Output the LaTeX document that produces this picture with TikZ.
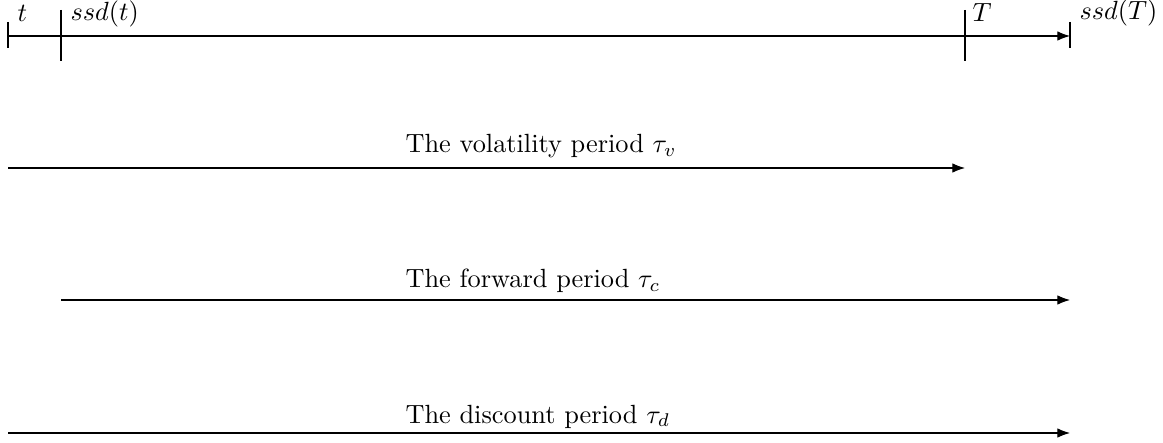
\documentclass[tikz,border=0pt]{standalone}
\usetikzlibrary{arrows.meta}
\begin{document}
\begin{tikzpicture}[x=0.38pt,y=-0.38pt,
  arr/.style={-{Latex}},
  lbl/.style={anchor=base west,inner sep=0pt},
  tick/.style={}]
\useasboundingbox (0,0) rectangle (1163,443);
% timeline points
\coordinate (t)  at (8,36);
\coordinate (st) at (61,36);
\coordinate (T)  at (965,36);
\coordinate (sT) at (1070,36);
\draw[arr] (t) -- (sT);
\draw (8,22) -- (8,48);
\draw (61,10) -- (61,61);
\draw (965,10) -- (965,61);
\draw (1070,22) -- (1070,48);
\node[lbl] (lt)  at (17,22)   {$t$};
\node[lbl] (lst) at (70,21)   {$ssd(t)$};
\node[lbl] (lT)  at (972,22)  {$T$};
\node[lbl] (lsT) at (1079,20) {$ssd(T)$};
% periods
\coordinate (v0) at (8,168);   \coordinate (v1) at (965,168);
\coordinate (c0) at (61,300);  \coordinate (c1) at (1070,300);
\coordinate (d0) at (8,433);   \coordinate (d1) at (1070,433);
\draw[arr] (v0) -- (v1);
\draw[arr] (c0) -- (c1);
\draw[arr] (d0) -- (d1);
\node[lbl] (lv) at (405,153) {The volatility period $\tau_v$};
\node[lbl] (lc) at (405,288) {The forward period $\tau_c$};
\node[lbl] (ld) at (405,423) {The discount period $\tau_d$};
\end{tikzpicture}
\end{document}
